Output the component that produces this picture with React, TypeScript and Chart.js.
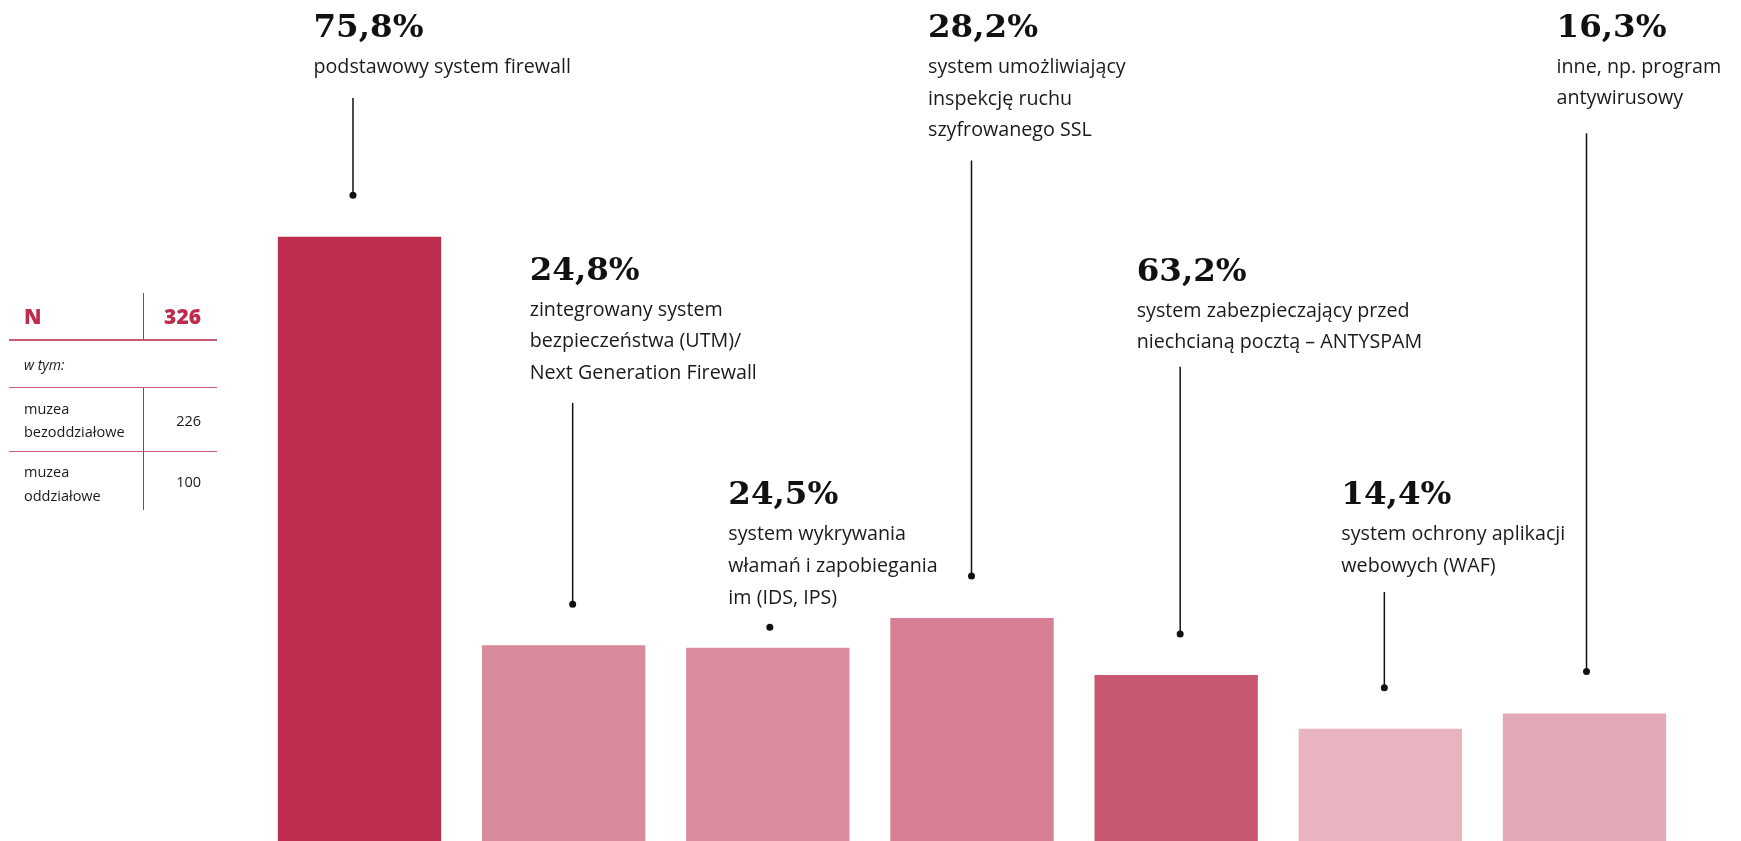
import React, { useEffect, useRef } from 'react';
import { Chart, registerables } from 'chart.js';

Chart.register(...registerables);

// ---- data ----
const categories = [
  'podstawowy system firewall',
  'zintegrowany system bezpieczeństwa (UTM)/Next Generation Firewall',
  'system wykrywania włamań i zapobiegania im (IDS, IPS)',
  'system umożliwiający inspekcję ruchu szyfrowanego SSL',
  'system zabezpieczający przed niechcianą pocztą – ANTYSPAM',
  'system ochrony aplikacji webowych (WAF)',
  'inne, np. program antywirusowy',
];
// bar heights as drawn in the reference
const barValues = [75.8, 24.8, 24.5, 28.2, 21.1, 14.4, 16.3];
const percentLabels = ['75,8%', '24,8%', '24,5%', '28,2%', '63,2%', '14,4%', '16,3%'];
const descriptionLines = [
  ['podstawowy system firewall'],
  ['zintegrowany system', 'bezpieczeństwa (UTM)/', 'Next Generation Firewall'],
  ['system wykrywania', 'włamań i zapobiegania', 'im (IDS, IPS)'],
  ['system umożliwiający', 'inspekcję ruchu', 'szyfrowanego SSL'],
  ['system zabezpieczający przed', 'niechcianą pocztą – ANTYSPAM'],
  ['system ochrony aplikacji', 'webowych (WAF)'],
  ['inne, np. program', 'antywirusowy'],
];

const tableTotalLabel = 'N';
const tableTotalValue = '326';
const tableSubLabel = 'w tym:';
const tableRowLabels = [['muzea', 'bezoddziałowe'], ['muzea', 'oddziałowe']];
const tableRowValues = ['226', '100'];

// ---- styles / layout ----
const barColors = ['#BE2D4E', '#DA8A9D', '#DA8B9E', '#D77F94', '#C85870', '#E8B4C0', '#E3A9B6'];
const annotationLayout = [
  { dx: -46, baseY: 37, lineDx: -6.5, lineGap: 25, dotGap: 41.5 },
  { dx: -34, baseY: 279.5, lineDx: 9, lineGap: 24, dotGap: 41 },
  { dx: -39.5, baseY: 504.3, lineDx: 2, lineGap: null, dotGap: 20.5 },
  { dx: -44, baseY: 37, lineDx: -0.5, lineGap: 24, dotGap: 42 },
  { dx: -39.5, baseY: 280.5, lineDx: 4, lineGap: 18.5, dotGap: 41 },
  { dx: -39, baseY: 504.3, lineDx: 4, lineGap: 20, dotGap: 41 },
  { dx: -28, baseY: 36.5, lineDx: 2, lineGap: 29, dotGap: 42 },
];
const PCT_FONT = 'bold 32.5px "DejaVu Serif", "Liberation Serif", serif';
const DESC_FONT = '19.7px "Open Sans", sans-serif';
const DESC_FIRST_OFFSET = 36;
const DESC_LINE_HEIGHT = 31.7;

const annotationPlugin = {
  id: 'barAnnotations',
  afterDatasetsDraw(chart: any) {
    const ctx = chart.ctx as CanvasRenderingContext2D;
    const meta = chart.getDatasetMeta(0);
    ctx.save();
    meta.data.forEach((bar: any, i: number) => {
      const lay = annotationLayout[i];
      const x0 = bar.x + lay.dx;
      ctx.fillStyle = '#111111';
      ctx.textAlign = 'left';
      ctx.textBaseline = 'alphabetic';
      ctx.font = PCT_FONT;
      ctx.fillText(percentLabels[i], x0, lay.baseY);
      ctx.font = DESC_FONT;
      ctx.fillStyle = '#1a1a1a';
      const lines = descriptionLines[i];
      let lastBase = lay.baseY;
      lines.forEach((ln, j) => {
        const y = lay.baseY + DESC_FIRST_OFFSET + j * DESC_LINE_HEIGHT;
        ctx.fillText(ln, x0, y);
        lastBase = y;
      });
      const lx = bar.x + lay.lineDx;
      const dotY = bar.y - lay.dotGap;
      if (lay.lineGap !== null) {
        ctx.strokeStyle = '#111111';
        ctx.lineWidth = 1.5;
        ctx.beginPath();
        ctx.moveTo(lx, lastBase + lay.lineGap);
        ctx.lineTo(lx, dotY);
        ctx.stroke();
      }
      ctx.fillStyle = '#111111';
      ctx.beginPath();
      ctx.arc(lx, dotY, 3.5, 0, Math.PI * 2);
      ctx.fill();
    });
    ctx.restore();
  },
};

const crimson = '#BE2D4E';
const lineCol = '#CC5A72';
const tableFont = '"Open Sans", sans-serif';

function InfoTable() {
  const abs = (s: React.CSSProperties): React.CSSProperties => ({ position: 'absolute', margin: 0, whiteSpace: 'nowrap', ...s });
  return (
    <div style={{ position: 'absolute', left: 0, top: 0, width: 240, height: 841, fontFamily: tableFont, color: '#1a1a1a' }}>
      <div style={abs({ left: 143, top: 293, width: 1, height: 47, background: crimson })} />
      <div style={abs({ left: 143, top: 388, width: 1, height: 122, background: crimson })} />
      <div style={abs({ left: 9, top: 339, width: 208, height: 2, background: lineCol })} />
      <div style={abs({ left: 9, top: 387, width: 208, height: 1.3, background: lineCol })} />
      <div style={abs({ left: 9, top: 451, width: 208, height: 1.3, background: lineCol })} />
      <div style={abs({ left: 24, top: 325 - 23, fontSize: 21, fontWeight: 800, color: crimson, lineHeight: '28px' })}>{tableTotalLabel}</div>
      <div style={abs({ left: 140, width: 61, textAlign: 'right', top: 325 - 23, fontSize: 21, fontWeight: 800, color: crimson, lineHeight: '28px' })}>{tableTotalValue}</div>
      <div style={abs({ left: 24, top: 370 - 15, fontSize: 14, fontStyle: 'italic', lineHeight: '19px' })}>{tableSubLabel}</div>
      {tableRowLabels.map((lbl, r) => {
        const base = r === 0 ? 413.3 : 476.7;
        const vbase = r === 0 ? 425.7 : 486.7;
        return (
          <React.Fragment key={r}>
            <div style={abs({ left: 24, top: base - 16.5, fontSize: 14.5, lineHeight: '23.4px' })}>
              {lbl.map((t, k) => (<div key={k}>{t}</div>))}
            </div>
            <div style={abs({ left: 140, width: 61, textAlign: 'right', top: vbase - 16.5, fontSize: 14.5, lineHeight: '23.4px' })}>{tableRowValues[r]}</div>
          </React.Fragment>
        );
      })}
    </div>
  );
}

export default function App() {
  const canvasRef = useRef<HTMLCanvasElement | null>(null);
  useEffect(() => {
    if (!canvasRef.current) return;
    const chart = new Chart(canvasRef.current, {
      type: 'bar',
      data: {
        labels: categories,
        datasets: [
          {
            data: barValues,
            backgroundColor: barColors,
            borderWidth: 0,
            barPercentage: 0.8,
            categoryPercentage: 1,
          },
        ],
      },
      options: {
        animation: false,
        responsive: false,
        devicePixelRatio: 1,
        layout: { padding: { left: 257.4, right: 54.4, top: 43, bottom: 0 } },
        plugins: { legend: { display: false }, tooltip: { enabled: false } },
        scales: {
          x: { display: false, grid: { display: false } },
          y: { display: false, min: 0, max: 100, grid: { display: false } },
        },
      },
      plugins: [annotationPlugin],
    });
    return () => chart.destroy();
  }, []);
  return (
    <div style={{ position: 'fixed', left: 0, top: 0, width: 1741, height: 841, overflow: 'hidden', background: '#ffffff' }}>
      <canvas ref={canvasRef} width={1741} height={844} style={{ position: 'absolute', left: 0, top: 0, width: 1741, height: 844 }} />
      <InfoTable />
    </div>
  );
}
